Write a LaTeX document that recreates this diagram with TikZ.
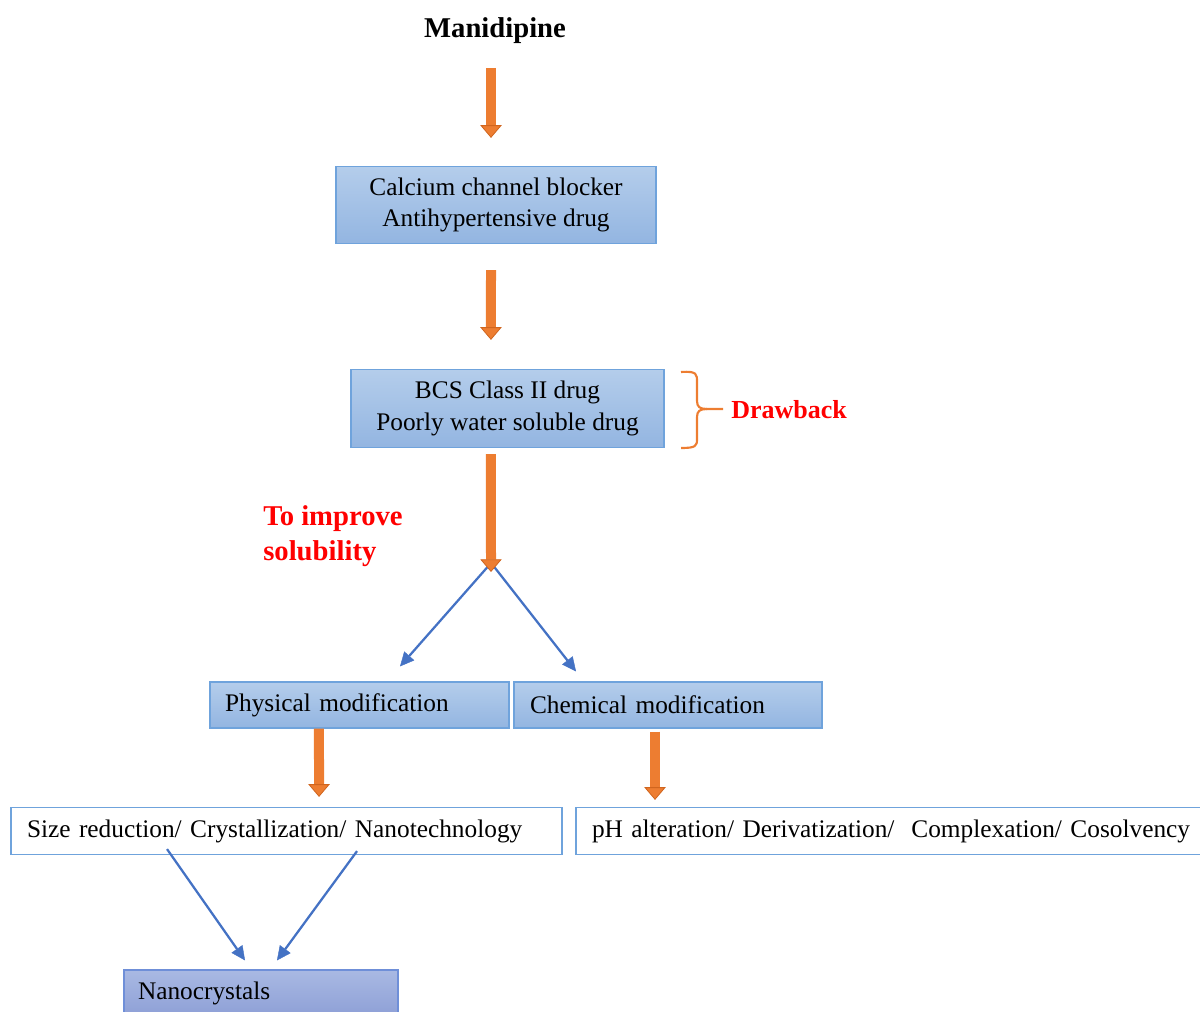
\documentclass[tikz,border=0pt]{standalone}
\usepackage{fontspec}
\setmainfont{Liberation Serif}
\usetikzlibrary{arrows.meta}
\definecolor{boxtop}{HTML}{B4CDEB}
\definecolor{boxbot}{HTML}{93B5E1}
\definecolor{boxline}{HTML}{6FA3DC}
\definecolor{nanotop}{HTML}{A9B9E3}
\definecolor{nanobot}{HTML}{8D9FD6}
\definecolor{nanoline}{HTML}{6F8FD8}
\definecolor{orangeA}{HTML}{ED7D31}
\definecolor{orangeB}{HTML}{D0651E}
\definecolor{blueA}{HTML}{4472C4}
\definecolor{redA}{HTML}{FF0000}
\begin{document}
\begin{tikzpicture}[x=0.75pt,y=-0.75pt,
  base/.style={font=\fontsize{19}{23.5}\selectfont, inner sep=0pt},
  gbox/.style={base, draw=boxline, line width=0.9pt, top color=boxtop, bottom color=boxbot, align=center},
  lbox/.style={base, draw=boxline, line width=0.9pt, align=left},
  nbox/.style={base, draw=nanoline, line width=0.9pt, top color=nanotop, bottom color=nanobot, align=left},
  redlabel/.style={font=\fontsize{21.5}{26}\selectfont\bfseries, text=redA, inner sep=0pt, align=left},
  orarrow/.style={draw=orangeA, line width=7.5pt, -{Triangle[width=16pt,length=9.5pt,line width=0.6pt,color=orangeB,fill=orangeA]}},
  bluearrow/.style={draw=blueA, line width=1.7pt, -{Triangle[width=10pt,length=10.5pt,line width=0.3pt]}},
  bracket/.style={draw=orangeA, line width=1.6pt}
]
\clip (0,0) rectangle (1200,1012);
\useasboundingbox (0,0) rectangle (1200,1012);

\node[font=\fontsize{21.5}{26}\selectfont\bfseries, inner sep=0pt] (mani) at (495,31) {Manidipine};

\node[gbox, minimum width={320*0.75pt}, minimum height={77*0.75pt}] (cc) at (496,205)
  {Calcium channel blocker\\Antihypertensive drug};
\node[gbox, minimum width={313*0.75pt}, minimum height={78*0.75pt}] (bcs) at (507.5,408.5)
  {BCS Class II drug\\Poorly water soluble drug};

\node[gbox, align=left, minimum width={299*0.75pt}, minimum height={46*0.75pt}, text width={269*0.75pt}] (phys) at (359.5,705)
  {Physical modification};
\node[gbox, align=left, minimum width={308*0.75pt}, minimum height={46*0.75pt}, text width={276*0.75pt}] (chem) at (668,705)
  {Chemical modification};

\node[lbox, fill=white, minimum width={551*0.75pt}, minimum height={47*0.75pt}, text width={519*0.75pt}] (size) at (286.5,831)
  {Size reduction/ Crystallization/ Nanotechnology};
\node[lbox, fill=white, minimum width={660*0.75pt}, minimum height={47*0.75pt}, text width={628*0.75pt}] (ph) at (906,831)
  {pH alteration/ Derivatization/\ \ Complexation/ Cosolvency};

\node[nbox, minimum width={274*0.75pt}, minimum height={47*0.75pt}, text width={246*0.75pt}] (nano) at (261,993.5)
  {Nanocrystals};

\node[redlabel, font=\fontsize{19.5}{24}\selectfont\bfseries, anchor=west] (draw) at (731,410) {Drawback};
\node[redlabel, anchor=north west, font=\fontsize{21.5}{26.25}\selectfont\bfseries] (improve) at (263,505) {To improve\\solubility};

% bracket
\coordinate (brtip) at (723,409);
\draw[bracket] (681,372) .. controls (697,371) and (697,374) .. (697,382) -- (697,401)
  .. controls (697,407) and (700,409) .. (707,409) -- (brtip);
\draw[bracket] (707,409) .. controls (700,409) and (697,411) .. (697,417) -- (697,439)
  .. controls (697,446) and (696,448) .. (681,448);

% orange arrows
\draw[orarrow, shorten <=27.75pt] ([xshift=-3pt]mani.center) -- ([xshift=-3.75pt, yshift=21pt]cc.north);
\draw[orarrow] ([xshift=-3.75pt, yshift=-19.5pt]cc.south) -- ([xshift=-12.4pt, yshift=21.75pt]bcs.north);

\coordinate (split) at (491,572);
\draw[bluearrow] ([xshift=-1.5pt, yshift=5pt]split) -- ([xshift=30.4pt, yshift=11.25pt]phys.north);
\draw[bluearrow] ([xshift=1.5pt, yshift=5pt]split) -- ([xshift=-69pt, yshift=7.5pt]chem.north);
\draw[orarrow, shorten <=4.5pt] ([xshift=-12.4pt]bcs.south) -- (split);

\draw[orarrow] ([xshift=-30.4pt]phys.south) -- ([xshift=24.4pt, yshift=7.5pt]size.north);
\draw[orarrow, shorten <=2.25pt] ([xshift=-9.75pt]chem.south) -- ([xshift=-188.25pt, yshift=5.25pt]ph.north);

% blue arrows to nanocrystals
\draw[bluearrow] ([xshift=-89.6pt, yshift=4.5pt]size.south) -- ([xshift=-12pt, yshift=6.75pt]nano.north);
\draw[bluearrow] ([xshift=52.9pt, yshift=3pt]size.south) -- ([xshift=12pt, yshift=6.75pt]nano.north);
\end{tikzpicture}
\end{document}
